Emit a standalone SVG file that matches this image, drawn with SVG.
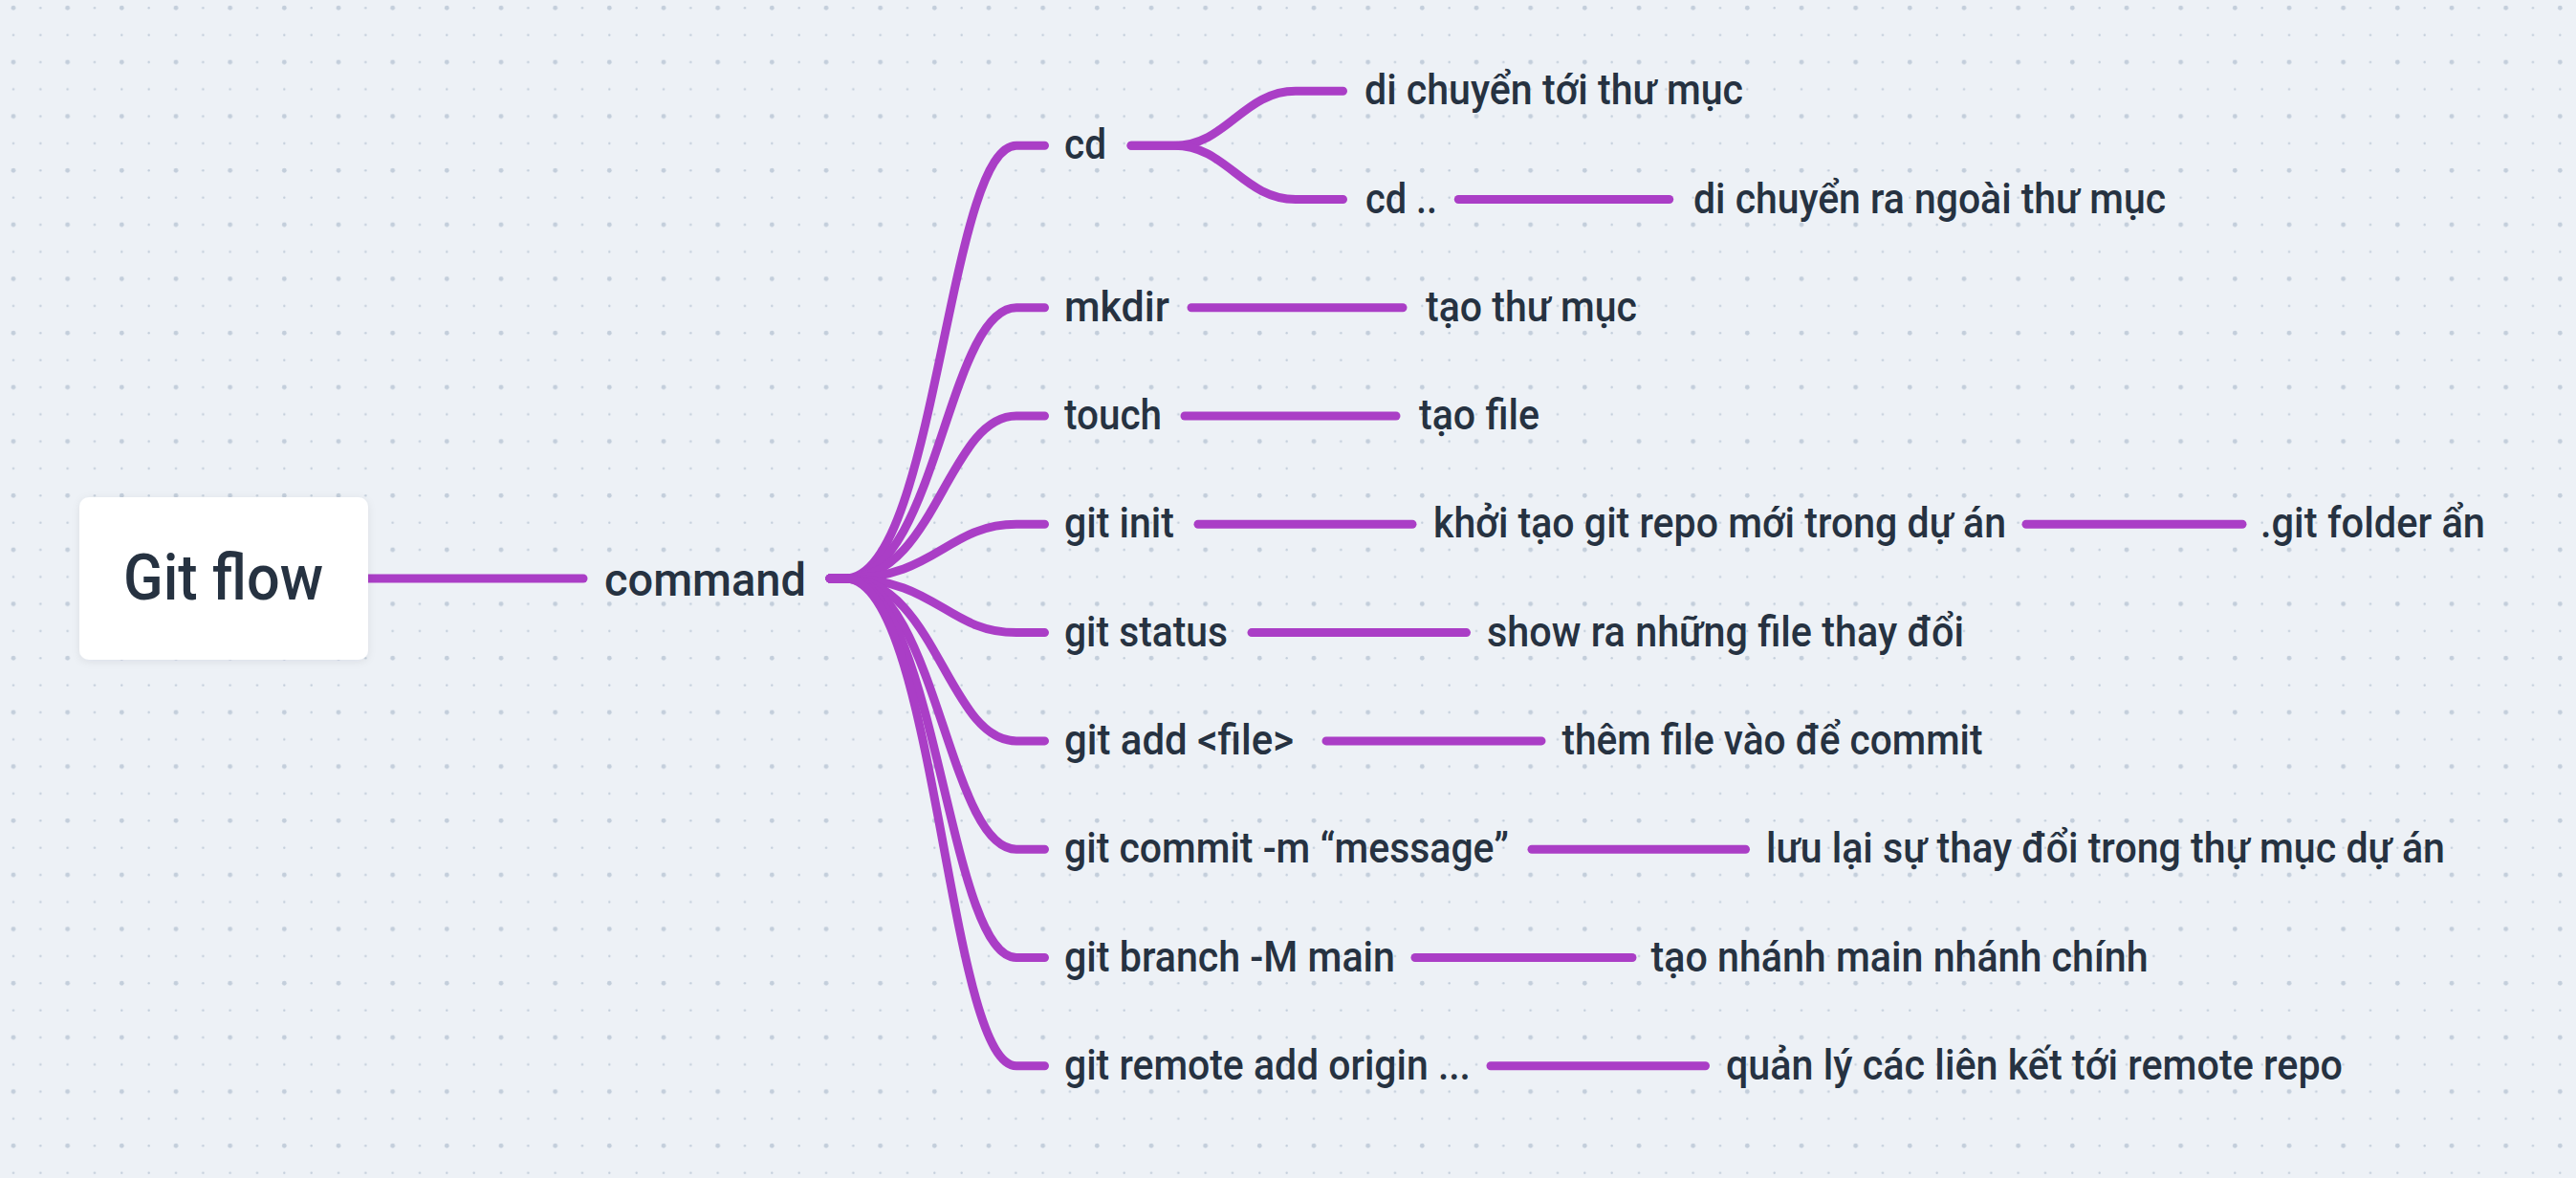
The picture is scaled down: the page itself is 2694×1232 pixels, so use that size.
<svg xmlns="http://www.w3.org/2000/svg" width="2694" height="1232" viewBox="0 0 2694 1232">
<defs>
<pattern id="dots" patternUnits="userSpaceOnUse" x="-0.17" y="-5.87" width="56.667" height="56.667">
<circle cx="14.17" cy="14.17" r="2.4" fill="#c3cedb"/>
<circle cx="42.5" cy="14.17" r="1.2" fill="#c3cedb"/>
<circle cx="14.17" cy="42.5" r="1.2" fill="#c3cedb"/>
<circle cx="42.5" cy="42.5" r="1.2" fill="#c3cedb"/>
</pattern>
<filter id="shadow" x="-20%" y="-20%" width="140%" height="140%">
<feDropShadow dx="0" dy="2" stdDeviation="4" flood-color="#1f2a3a" flood-opacity="0.08"/>
</filter>
</defs>
<style>
.bg{fill:#edf1f6}
.c{fill:none;stroke:#aa3ec6;stroke-width:9;stroke-linecap:round;stroke-linejoin:round}
.t{font-family:Roboto,"Noto Sans",sans-serif;fill:#263241;font-size:44px;font-weight:500}
.cmd{font-size:48px}
.root{font-size:66px}
</style>
<rect class="bg" x="0" y="0" width="2694" height="1232"/>
<rect x="0" y="0" width="2694" height="1232" fill="url(#dots)"/>

<g id="connectors">
<path class="c" d="M380 605 L610 605"/>
<path class="c" d="M868 605 L884 605 C979 605 991 152.3 1063 152.3 L1092.5 152.3"/>
<path class="c" d="M868 605 L884 605 C979 605 991 321.7 1063 321.7 L1092.5 321.7"/>
<path class="c" d="M868 605 L884 605 C979 605 991 435 1063 435 L1092.5 435"/>
<path class="c" d="M868 605 L884 605 C979 605 991 548.3 1063 548.3 L1092.5 548.3"/>
<path class="c" d="M868 605 L884 605 C979 605 991 661.6 1063 661.6 L1092.5 661.6"/>
<path class="c" d="M868 605 L884 605 C979 605 991 774.9 1063 774.9 L1092.5 774.9"/>
<path class="c" d="M868 605 L884 605 C979 605 991 888.2 1063 888.2 L1092.5 888.2"/>
<path class="c" d="M868 605 L884 605 C979 605 991 1001.5 1063 1001.5 L1092.5 1001.5"/>
<path class="c" d="M868 605 L884 605 C979 605 991 1114.8 1063 1114.8 L1092.5 1114.8"/>
<path class="c" d="M1183 152.3 L1228 152.3 C1283 152.3 1300 95.3 1355 95.3 L1404.5 95.3"/>
<path class="c" d="M1183 152.3 L1228 152.3 C1283 152.3 1300 208.5 1355 208.5 L1404.5 208.5"/>
<path class="c" d="M1525.3 208.5 L1745.7 208.5"/>
<path class="c" d="M1246 321.7 L1467 321.7"/>
<path class="c" d="M1239 435 L1460 435"/>
<path class="c" d="M1253 548.3 L1477 548.3"/>
<path class="c" d="M2119 548.3 L2345 548.3"/>
<path class="c" d="M1309 661.6 L1533.5 661.6"/>
<path class="c" d="M1387 774.9 L1612 774.9"/>
<path class="c" d="M1602 888.2 L1825.5 888.2"/>
<path class="c" d="M1480 1001.5 L1707 1001.5"/>
<path class="c" d="M1559 1114.8 L1783.5 1114.8"/>
</g>

<g id="root">
<rect x="83" y="520" width="302" height="170" rx="10" fill="#ffffff" filter="url(#shadow)"/>
<text class="t root" x="129" y="626.7" textLength="209" lengthAdjust="spacingAndGlyphs">Git flow</text>
</g>
<g id="command"><text class="t cmd" x="632" y="622.7" textLength="211" lengthAdjust="spacingAndGlyphs">command</text></g>
<g id="cd"><text class="t" x="1113" y="166.3" textLength="44" lengthAdjust="spacingAndGlyphs">cd</text></g>
<g id="cd-desc"><text class="t" x="1427" y="109.3" textLength="396" lengthAdjust="spacingAndGlyphs">di chuyển tới thư mục</text></g>
<g id="cd-up"><text class="t" x="1428" y="222.5" textLength="75" lengthAdjust="spacingAndGlyphs">cd ..</text></g>
<g id="cd-up-desc"><text class="t" x="1771" y="222.5" textLength="494" lengthAdjust="spacingAndGlyphs">di chuyển ra ngoài thư mục</text></g>
<g id="mkdir"><text class="t" x="1113" y="335.7" textLength="110" lengthAdjust="spacingAndGlyphs">mkdir</text></g>
<g id="mkdir-desc"><text class="t" x="1491" y="335.7" textLength="221" lengthAdjust="spacingAndGlyphs">tạo thư mục</text></g>
<g id="touch"><text class="t" x="1113" y="449" textLength="102" lengthAdjust="spacingAndGlyphs">touch</text></g>
<g id="touch-desc"><text class="t" x="1484" y="449" textLength="126" lengthAdjust="spacingAndGlyphs">tạo file</text></g>
<g id="git-init"><text class="t" x="1113" y="562.3" textLength="115" lengthAdjust="spacingAndGlyphs">git init</text></g>
<g id="git-init-desc"><text class="t" x="1499" y="562.3" textLength="599" lengthAdjust="spacingAndGlyphs">khởi tạo git repo mới trong dự án</text></g>
<g id="git-folder"><text class="t" x="2364" y="562.3" textLength="235" lengthAdjust="spacingAndGlyphs">.git folder ẩn</text></g>
<g id="git-status"><text class="t" x="1113" y="675.6" textLength="171" lengthAdjust="spacingAndGlyphs">git status</text></g>
<g id="git-status-desc"><text class="t" x="1555" y="675.6" textLength="499" lengthAdjust="spacingAndGlyphs">show ra những file thay đổi</text></g>
<g id="git-add"><text class="t" x="1113" y="788.9" textLength="240" lengthAdjust="spacingAndGlyphs">git add &lt;file&gt;</text></g>
<g id="git-add-desc"><text class="t" x="1633.5" y="788.9" textLength="440" lengthAdjust="spacingAndGlyphs">thêm file vào để commit</text></g>
<g id="git-commit"><text class="t" x="1113" y="902.2" textLength="465" lengthAdjust="spacingAndGlyphs">git commit -m “message”</text></g>
<g id="git-commit-desc"><text class="t" x="1847" y="902.2" textLength="710" lengthAdjust="spacingAndGlyphs">lưu lại sự thay đổi trong thự mục dự án</text></g>
<g id="git-branch"><text class="t" x="1113" y="1015.5" textLength="346" lengthAdjust="spacingAndGlyphs">git branch -M main</text></g>
<g id="git-branch-desc"><text class="t" x="1726.5" y="1015.5" textLength="520" lengthAdjust="spacingAndGlyphs">tạo nhánh main nhánh chính</text></g>
<g id="git-remote"><text class="t" x="1113" y="1128.8" textLength="425" lengthAdjust="spacingAndGlyphs">git remote add origin ...</text></g>
<g id="git-remote-desc"><text class="t" x="1805" y="1128.8" textLength="645" lengthAdjust="spacingAndGlyphs">quản lý các liên kết tới remote repo</text></g>
</svg>
